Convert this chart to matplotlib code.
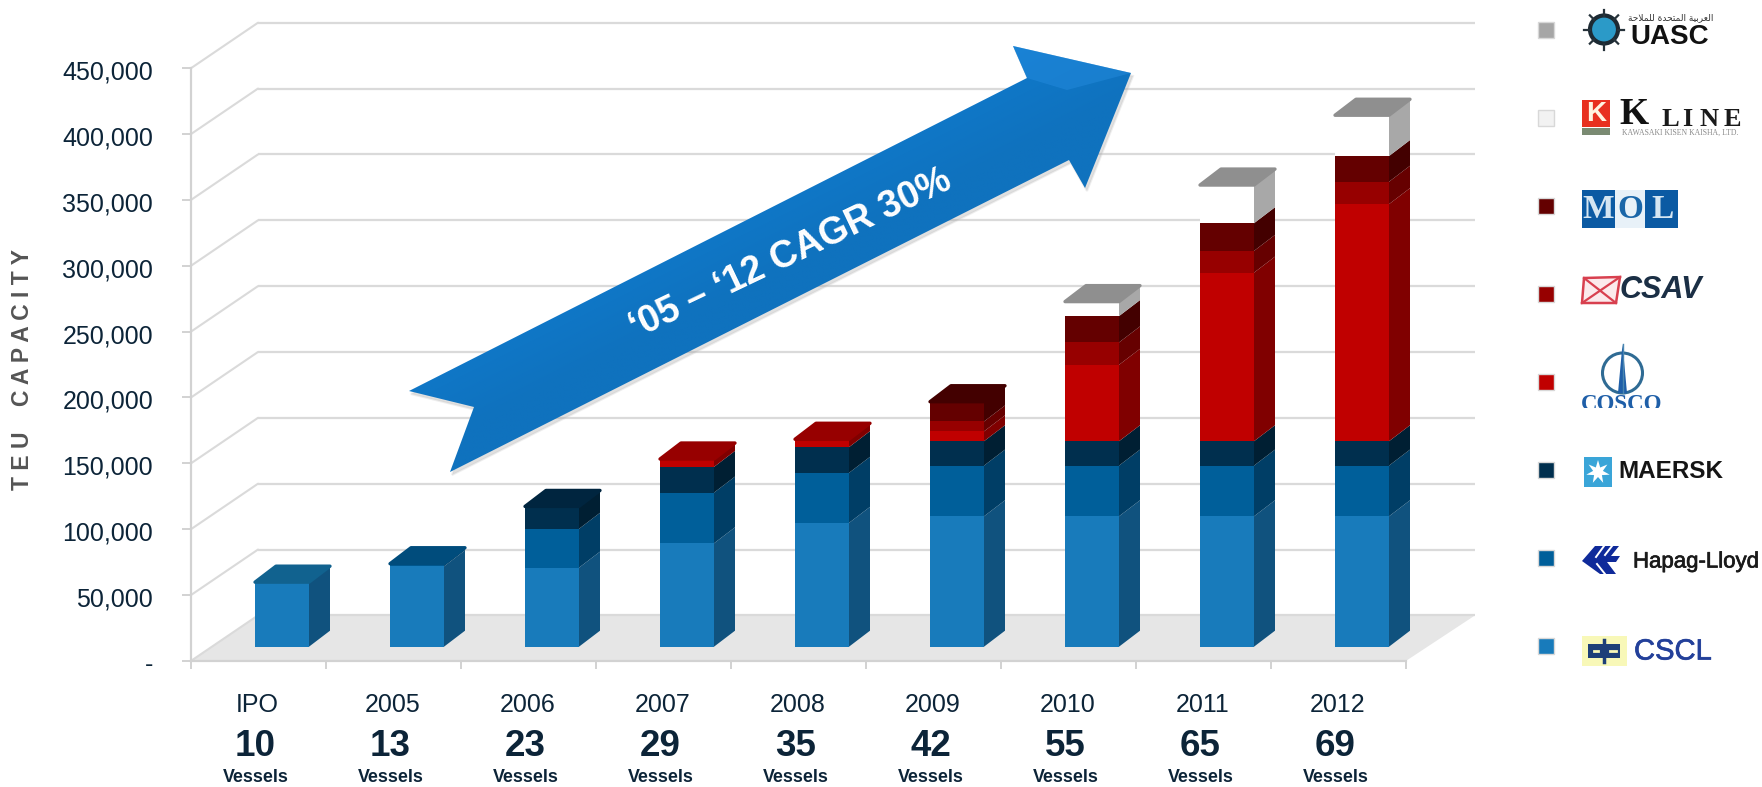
import numpy as np
import matplotlib
matplotlib.use("Agg")
import matplotlib.pyplot as plt
import matplotlib.patheffects as pe
from matplotlib.patches import Polygon, Rectangle, Circle, Ellipse
from matplotlib.transforms import ScaledTranslation

plt.rcParams['font.family'] = ['Liberation Sans', 'DejaVu Sans']

# Fleet capacity by period, TEU, stacked per charter customer
periods = ['IPO', '2005', '2006', '2007', '2008', '2009', '2010', '2011', '2012']
vessels = [10, 13, 23, 29, 35, 42, 55, 65, 69]
cscl = [49000, 61000, 60000, 78500, 94000, 99000, 99000, 99000, 99000]
hapag = [0, 2000, 29500, 38500, 38000, 38500, 38500, 38500, 38500]
maersk = [0, 0, 17000, 19500, 19500, 18500, 18500, 18500, 18500]
cosco = [0, 0, 0, 6000, 6000, 7500, 58000, 128000, 180000]
csav = [0, 0, 0, 0, 0, 7500, 17000, 16500, 17000]
mol = [0, 0, 0, 0, 0, 15000, 20000, 21000, 19500]
kline = [0, 0, 0, 0, 0, 0, 11000, 29000, 31000]
uasc = [0, 0, 0, 0, 0, 0, 0, 0, 0]
y_ticks = list(range(0, 450001, 50000))

series = [cscl, hapag, maersk, cosco, csav, mol, kline, uasc]
front_colors = ['#187bbb', '#005f9a', '#002f4e', '#c00000', '#970000', '#640000', '#ffffff', '#a6a6a6']
side_colors = ['#10527e', '#003e66', '#001f33', '#800000', '#660000', '#430000', '#a8a8a8', '#8c8c8c']
top_colors = ['#11628f', '#004c7c', '#00253f', '#970000', '#7a0000', '#430000', '#8f8f8f', '#8f8f8f']

W, H = 1762, 787
AX_L, AX_R, AX_B, AX_T = 191, 1406, 660.9, 68.2
GRID = '#dadada'
INK = '#0c2438'
PT = 0.72  # points per pixel at 100 dpi

fig = plt.figure(figsize=(W / 100, H / 100), dpi=100, facecolor='white')
ax = fig.add_axes([AX_L / W, 1 - AX_B / H, (AX_R - AX_L) / W, (AX_B - AX_T) / H])
ax.set_xlim(0, len(periods))
ax.set_ylim(0, 450000)
ax.set_facecolor('none')

px_x = len(periods) / (AX_R - AX_L)      # data x per pixel
px_y = 450000 / (AX_B - AX_T)            # data y per pixel


def shift(x, v, dx, dy):
    """Move a data point by a screen offset given in pixels (oblique projection)."""
    return x + dx * px_x, v + dy * px_y


# Chart box: floor, back wall gridlines and the diagonals of the side wall
WALL_DX, WALL_DY = 67, 45.5
n = len(periods)
floor = [(0, 0), (n, 0), shift(n, 0, WALL_DX + 2, WALL_DY), shift(0, 0, WALL_DX, WALL_DY)]
ax.add_patch(Polygon(floor, closed=True, fc='#e6e6e6', ec='none', zorder=1, clip_on=False))
for v in y_ticks:
    x0, y0 = shift(0, v, WALL_DX, WALL_DY)
    x1, y1 = shift(n, v, WALL_DX + 2, WALL_DY)
    ax.plot([0, x0], [v, y0], color=GRID, lw=1.5, zorder=2, clip_on=False, solid_capstyle='round')
    ax.plot([x0, x1], [y0, y1], color=GRID, lw=1.6, zorder=2, clip_on=False, solid_capstyle='butt')

# Stacked prisms
BAR_W = 54 * px_x
BAR_DX, BAR_DY = 21, 16
BAR_OFF_X, BAR_OFF_Y = 23.5, 14.2
for i in range(n):
    x0, base = shift(i + 0.5 - BAR_W / 2, 0, BAR_OFF_X, BAR_OFF_Y)
    x1 = x0 + BAR_W
    bottom = base
    top_idx = max(k for k, s in enumerate(series) if s[i] > 0)
    for k, s in enumerate(series):
        if s[i] <= 0:
            continue
        t = bottom + s[i]
        ax.add_patch(Rectangle((x0, bottom), BAR_W, s[i], fc=front_colors[k], ec='none',
                               zorder=5, clip_on=False))
        side = [(x1, bottom), shift(x1, bottom, BAR_DX, BAR_DY),
                shift(x1, t, BAR_DX, BAR_DY), (x1, t)]
        ax.add_patch(Polygon(side, closed=True, fc=side_colors[k], ec='none', zorder=5, clip_on=False))
        bottom = t
    lid = [(x0, bottom), (x1, bottom), shift(x1, bottom, BAR_DX, BAR_DY), shift(x0, bottom, BAR_DX, BAR_DY)]
    ax.add_patch(Polygon(lid, closed=True, fc=top_colors[top_idx], ec=top_colors[top_idx], lw=2.4,
                         joinstyle='round', zorder=6, clip_on=False))

# Axes, ticks and labels
for name in ('top', 'right'):
    ax.spines[name].set_visible(False)
for name in ('left', 'bottom'):
    ax.spines[name].set_color('#d2d2d2')
    ax.spines[name].set_linewidth(1.6)
    ax.spines[name].set_zorder(3)
ax.set_yticks(y_ticks)
ax.set_yticklabels(['-' if v == 0 else f'{v:,}' for v in y_ticks], fontsize=18, color=INK)
ax.tick_params(axis='y', length=9 * PT, width=1.4, color='#d2d2d2', pad=29 * PT)
nudge = ScaledTranslation(0, -2 / 100, fig.dpi_scale_trans)
for lab in ax.get_yticklabels():
    lab.set_transform(lab.get_transform() + nudge)
ax.set_xticks(range(n + 1))
ax.set_xticklabels([''] * (n + 1))
ax.tick_params(axis='x', length=8 * PT, width=1.4, color='#d2d2d2')

for i, (p, c) in enumerate(zip(periods, vessels)):
    ax.annotate(p, (i + 0.5, 0), xytext=(-1 * PT, -(705 - AX_B) * PT), textcoords='offset points',
                ha='center', va='center', fontsize=18, color=INK, annotation_clip=False)
    ax.annotate(str(c), (i + 0.5, 0), xytext=(-3 * PT, -(747 - AX_B) * PT), textcoords='offset points',
                ha='center', va='center', fontsize=26.5, fontweight='bold', color=INK, annotation_clip=False)
    ax.annotate('Vessels', (i + 0.5, 0), xytext=(-3 * PT, -(777.5 - AX_B) * PT), textcoords='offset points',
                ha='center', va='center', fontsize=12.9, fontweight='bold', color=INK, annotation_clip=False)

# Pixel-addressed layer for the call-out arrow and the carrier marks
ov = fig.add_axes([0, 0, 1, 1], facecolor='none', zorder=10)
ov.set_xlim(0, W)
ov.set_ylim(H, 0)
ov.axis('off')

ov.text(22.5, 369, 'T E U    C A P A C I T Y', rotation=90, ha='center', va='center',
        fontsize=16.5, fontweight='bold', color='#555555')

# Growth arrow
arrow = [(409, 391), (474, 407), (450, 472), (1069, 160), (1085, 188), (1131, 73),
         (1013, 46), (1027, 78)]
ov.add_patch(Polygon([(x + 2, y + 3) for x, y in arrow], closed=True, fc='#9a9a9a', ec='#c8c8c8',
                     lw=1.5, alpha=0.3, zorder=1))
gx, gy = np.meshgrid(np.linspace(400, 1140, 200), np.linspace(40, 480, 200))
across = ((gx - 409) * 0.449 + (gy - 391) * 0.893 + 40) / 100
across = np.clip(across, 0, 1)
c_hi = np.array([0x0f, 0x7a, 0xcc]) / 255
c_lo = np.array([0x0f, 0x72, 0xbe]) / 255
shade = c_hi[None, None, :] * (1 - across[..., None]) + c_lo[None, None, :] * across[..., None]
im = ov.imshow(shade, extent=(400, 1140, 480, 40), aspect='auto', zorder=2, interpolation='bilinear')
clip = Polygon(arrow, closed=True, transform=ov.transData, fc='none', ec='none')
ov.add_patch(clip)
im.set_clip_path(clip)
ov.add_patch(Polygon([(1013, 46), (1131, 73), (1067, 90), (1027, 78)], closed=True,
                     fc='#2a90e4', ec='none', alpha=0.4, zorder=3))
ov.text(791, 254, '\u201805 \u2013 \u201812 CAGR 30%', rotation=25.5, rotation_mode='anchor',
        ha='center', va='center', fontsize=27, fontweight='bold', color='white', zorder=4)
ov.set_xlim(0, W)
ov.set_ylim(H, 0)

# Legend keys, top entry first
key_y = [29.5, 117.5, 205.5, 293.5, 381.5, 469.5, 557.5, 645.5]
key_idx = [7, 6, 5, 4, 3, 2, 1, 0]
for y, k in zip(key_y, key_idx):
    col = front_colors[k] if k != 6 else '#f2f2f2'
    ov.add_patch(Rectangle((1538, y - 8), 16, 16, fc=col, ec='#d8d8d8', lw=1, zorder=2))

# UASC
ov.add_patch(Circle((1604, 29.5), 14, fc='#2b9ac8', ec='#1d2a33', lw=3))
for a in np.deg2rad(np.arange(0, 360, 45)):
    ov.plot([1604 + 14 * np.cos(a), 1604 + 20 * np.cos(a)], [29.5 + 14 * np.sin(a), 29.5 + 20 * np.sin(a)],
            color='#26323a', lw=1.6)
ov.text(1630, 37.5, 'UASC', fontsize=20, fontweight='bold', color='#111111', va='center', ha='left')
ov.text(1671, 18, '\ufe94\ufea3\ufefc\ufee4\ufee0\ufedf \ufe93\ufeaa\ufea4\ufe98\ufee4\ufedf\ufe8d \ufe94\ufef4\ufe91\ufeae\ufecc\ufedf\ufe8d',
        family='DejaVu Sans', fontsize=6.5, color='#333333', va='center', ha='center')

# K LINE
ov.add_patch(Rectangle((1582, 100), 28, 27, fc='#e8301f', ec='none'))
ov.add_patch(Rectangle((1582, 128), 28, 7, fc='#7a8a72', ec='none'))
ov.text(1596, 114, 'K', fontsize=20, fontweight='bold', color='#fff3e0', ha='center', va='center')
ov.text(1634, 114, 'K', family='Liberation Serif', fontsize=27, fontweight='bold', color='#111111',
        ha='center', va='center')
for x, ch in zip([1670, 1687, 1709, 1732], 'LINE'):
    ov.text(x, 119, ch, family='Liberation Serif', fontsize=19, fontweight='bold', color='#1a1a1a',
            ha='center', va='center')
ov.text(1680, 132.5, 'KAWASAKI KISEN KAISHA, LTD.', family='Liberation Serif', fontsize=5.6,
        color='#8a8a8a', ha='center', va='center')

# MOL
ov.add_patch(Rectangle((1582, 190), 96, 38, fc='#0b5aa3', ec='none'))
ov.add_patch(Rectangle((1615, 190), 30, 38, fc='#e8f1f8', ec='none'))
for x, ch, col in [(1598, 'M', '#d5e6f2'), (1630, 'O', '#1a66a8'), (1662, 'L', '#d5e6f2')]:
    ov.text(x, 209, ch, family='Liberation Serif', fontsize=24, fontweight='bold', color=col,
            ha='center', va='center')

# CSAV
ov.add_patch(Polygon([(1584, 278), (1620, 277), (1616, 303), (1582, 303)], closed=True, fc='#fbeaec',
                     ec='#d8404f', lw=1.8))
ov.plot([1584, 1616], [278, 303], color='#d8404f', lw=1.6)
ov.plot([1620, 1582], [277, 303], color='#d8404f', lw=1.6)
ov.text(1620, 290, 'CSAV', fontsize=22, fontweight='bold', style='italic', color='#1b2f45',
        ha='left', va='center')

# COSCO
ov.add_patch(Ellipse((1622.5, 373), 40, 40, fc='none', ec='#2f6b94', lw=2.2))
ov.add_patch(Polygon([(1622.5, 344), (1618, 393), (1627, 393)], closed=True, fc='#1f5fa8', ec='none'))
ov.plot([1622.5, 1622.5], [344, 393], color='#4a86b0', lw=1)
cosco_mark = ov.text(1622, 404, 'COSCO', family='Liberation Serif', fontsize=16.5, fontweight='bold',
                     color='#1f5fa8', ha='center', va='center')
cosco_mark.set_clip_on(True)
cosco_mark.set_clip_path(Rectangle((1570, 394), 110, 14, transform=ov.transData))

# MAERSK
ov.add_patch(Rectangle((1584, 457), 28, 30, fc='#3aa5d8', ec='none'))
ang = np.deg2rad(np.arange(14) * 360 / 14 - 90)
rad = np.where(np.arange(14) % 2 == 0, 12, 5)
ov.add_patch(Polygon(np.c_[1598 + rad * np.cos(ang), 472 + rad * np.sin(ang)], closed=True, fc='white', ec='none'))
ov.text(1618, 472, 'MAERSK', fontsize=17.5, fontweight='bold', color='#151515', ha='left', va='center')

# Hapag-Lloyd
blue = '#0f2a9a'
ov.add_patch(Polygon([(1582, 561), (1595, 546), (1619, 546), (1611, 556), (1620, 556), (1616, 562),
                      (1607, 562), (1616, 574), (1600, 574)], closed=True, fc=blue, ec='none'))
ov.plot([1604, 1596], [546, 557], color='white', lw=1.4)
ov.plot([1612, 1605], [546, 555], color='white', lw=1.4)
ov.plot([1597, 1605], [564, 574], color='white', lw=1.4)
ov.text(1633, 562, 'Hapag-Lloyd', fontsize=16, color='#1a1a1a', ha='left', va='center',
        path_effects=[pe.withStroke(linewidth=0.5, foreground='#1a1a1a')])

# CSCL
ov.add_patch(Rectangle((1582, 636), 45, 30, fc='#f8f8b8', ec='none'))
ov.add_patch(Rectangle((1588, 644), 32, 14, fc='#1d3f78', ec='none'))
ov.plot([1604, 1604], [640, 662], color='#1d3f78', lw=2.5)
ov.plot([1594, 1598], [651, 651], color='#f8f8b8', lw=2)
ov.plot([1610, 1616], [651, 651], color='#f8f8b8', lw=2)
ov.text(1634, 651.5, 'CSCL', fontsize=21, color='#23409a', ha='left', va='center',
        path_effects=[pe.withStroke(linewidth=0.5, foreground='#23409a')])

fig.savefig('out.png', dpi=100)
